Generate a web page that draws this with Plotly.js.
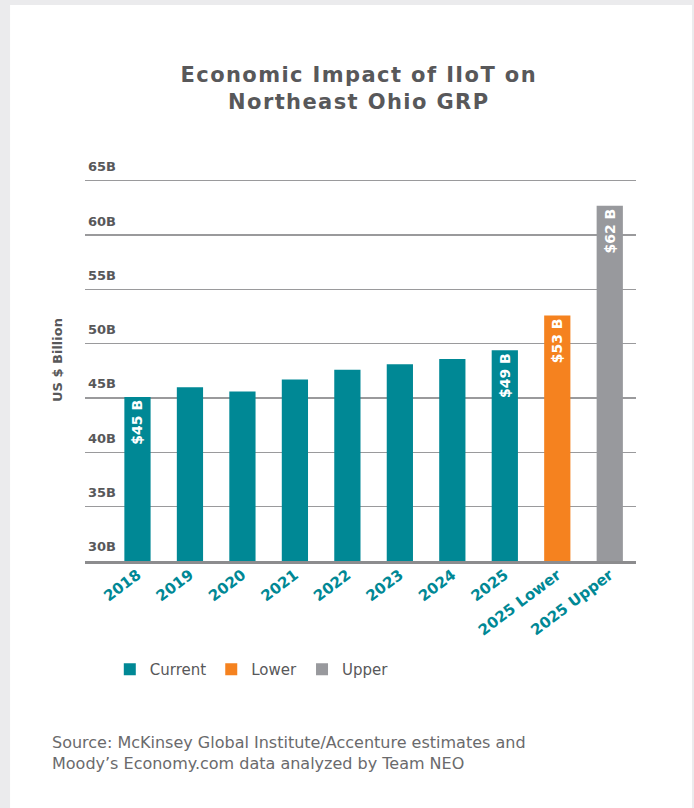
<!DOCTYPE html>
<html>
<head>
<meta charset="utf-8">
<script src="https://cdn.plot.ly/plotly-3.0.1.min.js"></script>
<style>
html,body{margin:0;padding:0;background:#ebebed;}
#chart{width:694px;height:808px;}
.gtitle{letter-spacing:1.4px;}
</style>
</head>
<body>
<div id="chart"></div>
<script>
// Data
const categories = ["2018","2019","2020","2021","2022","2023","2024","2025","2025 Lower","2025 Upper"];
const currentCats = ["2018","2019","2020","2021","2022","2023","2024","2025"];
const currentValues = [45.1, 46.0, 45.6, 46.7, 47.6, 48.1, 48.6, 49.4];
const currentLabels = ["$45 B","","","","","","","$49 B"];
const lowerCats = ["2025 Lower"];
const lowerValues = [52.6];
const lowerLabels = ["$53 B"];
const upperCats = ["2025 Upper"];
const upperValues = [62.7];
const upperLabels = ["$62 B"];
const yTickVals = [30,35,40,45,50,55,60,65];
const yTickText = ["30B","35B","40B","45B","50B","55B","60B","65B"];

const TEAL = "#008895", ORANGE = "#f5821f", GRAY = "#98999d";
const textFont = {family:"DejaVu Sans", size:14, color:"#ffffff", weight:"bold"};

function barTrace(name, x, y, text, color){
  return {
    type:"bar", name:name, x:x, y:y, text:text,
    marker:{color:color},
    width:0.5,
    textposition:"inside", insidetextanchor:"end", textangle:-90,
    textfont:textFont, cliponaxis:false,
    hoverinfo:"x+y"
  };
}

const data = [
  barTrace("Current", currentCats, currentValues, currentLabels, TEAL),
  barTrace("Lower", lowerCats, lowerValues, lowerLabels, ORANGE),
  barTrace("Upper", upperCats, upperValues, upperLabels, GRAY)
];

const layout = {
  width:694, height:808,
  margin:{l:85, r:58, t:159, b:247},
  paper_bgcolor:"#ebebed",
  plot_bgcolor:"rgba(0,0,0,0)",
  barmode:"overlay",
  showlegend:true,
  title:{
    text:"Economic Impact of IIoT on<br>Northeast Ohio GRP",
    x:0.517, xref:"container", xanchor:"center",
    y:0.899, yref:"container", yanchor:"middle",
    font:{family:"DejaVu Sans", size:21, color:"#58585a", weight:"bold"}
  },
  xaxis:{
    type:"category",
    categoryorder:"array", categoryarray:categories,
    range:[-1, 9.5],
    showgrid:false, zeroline:false,
    showline:true, linecolor:"#8c8c8e", linewidth:2.5,
    ticks:"", tickangle:-37,
    ticklabelstandoff:-3,
    tickfont:{family:"DejaVu Sans", size:15, color:TEAL, weight:"bold"},
    fixedrange:true
  },
  yaxis:{
    range:[30,67],
    tickvals:yTickVals, ticktext:yTickText,
    ticklabelposition:"inside top",
    ticklabelshift:-5,
    tickfont:{family:"DejaVu Sans", size:13, color:"#58585a", weight:"bold"},
    showgrid:true, gridcolor:"#9a9a9c", gridwidth:1.5,
    zeroline:false, showline:false, ticks:"",
    title:{text:"US $ Billion", standoff:22,
      font:{family:"DejaVu Sans", size:13, color:"#58585a", weight:"bold"}},
    fixedrange:true
  },
  legend:{
    orientation:"h",
    x:0.045, xanchor:"left",
    y:-0.27, yanchor:"middle",
    font:{family:"DejaVu Sans", size:15, color:"#58585a"},
    itemwidth:30,
    bgcolor:"rgba(0,0,0,0)"
  },
  shapes:[{
    type:"rect", xref:"paper", yref:"paper",
    x0:-0.136, x1:1.1016, y0:-0.70, y1:1.383,
    fillcolor:"#ffffff", line:{width:0}, layer:"below"
  }],
  annotations:[{
    xref:"paper", yref:"paper",
    x:-0.0635, y:-0.478, xanchor:"left", yanchor:"middle",
    align:"left", showarrow:false,
    text:"Source: McKinsey Global Institute/Accenture estimates and<br>Moody’s Economy.com data analyzed by Team NEO",
    font:{family:"DejaVu Sans", size:16, color:"#6a6a6c"}
  }]
};

Plotly.newPlot("chart", data, layout, {displayModeBar:false, staticPlot:true});
</script>
</body>
</html>
